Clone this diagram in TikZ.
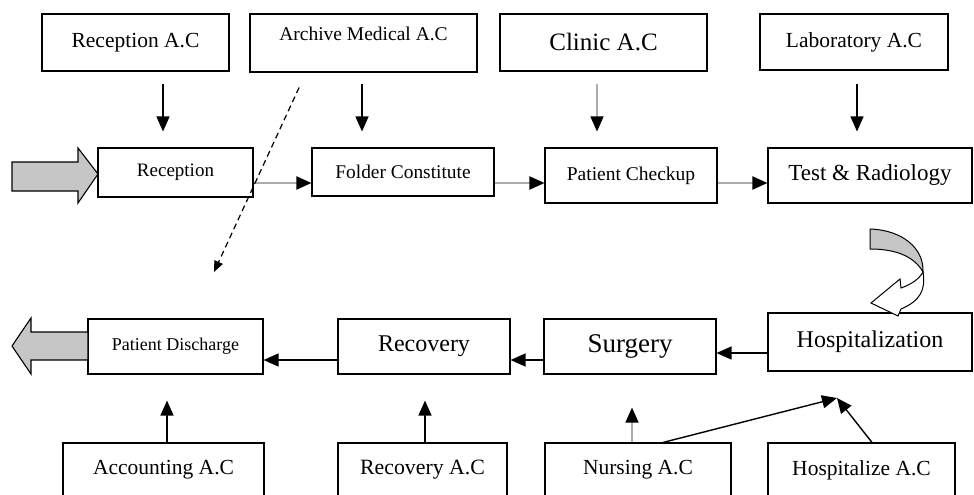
\documentclass[tikz,border=0pt]{standalone}
\usepackage{fontspec}
\setmainfont{Liberation Serif}
\usetikzlibrary{arrows.meta,calc}

\begin{document}
\begin{tikzpicture}[x=1pt,y=-1pt,
    box/.style={draw,line width=1.1pt,inner sep=0pt,fill=white},
    fsz/.style={font=\fontsize{#1}{#1}\selectfont},
    arr/.style={line width=1.4pt,-{Triangle[length=15pt,width=13pt,color=black]}},
    grayarr/.style={arr,draw=gray!65,line width=2pt}]
      \useasboundingbox (0,0) rectangle (974,495);
      \clip (0,0) rectangle (974,495);

      % draw top boxes
      \node[box,fsz=21.5,minimum width=187pt,minimum height=57pt] (recac) at (135.5,42.5) {Reception A.C};
      \node[box,fsz=19.5,minimum width=227pt,minimum height=58pt,text depth=19pt] (archac) at (363.5,43) {Archive Medical A.C};
      \node[box,fsz=25,minimum width=207pt,minimum height=57pt] (clinac) at (603.5,42.5) {Clinic A.C};
      \node[box,fsz=21.5,minimum width=188pt,minimum height=56pt] (labac) at (854,42) {Laboratory A.C};

      % draw process boxes
      \node[box,fsz=19,minimum width=155pt,minimum height=49pt] (recep) at (175.5,172.5) {Reception};
      \node[box,fsz=19.4,minimum width=182pt,minimum height=48pt] (folder) at (403,172) {Folder Constitute};
      \node[box,fsz=19.5,minimum width=172pt,minimum height=55pt] (checkup) at (631,175.5) {Patient Checkup};
      \node[box,fsz=23,minimum width=204pt,minimum height=55pt] (test) at (870,175.5) {Test \& Radiology};

      \node[box,fsz=18,minimum width=175pt,minimum height=55pt] (disch) at (175.5,346.5) {Patient Discharge};
      \node[box,fsz=24,minimum width=172pt,minimum height=55pt] (recov) at (424,346.5) {Recovery};
      \node[box,fsz=27,minimum width=172pt,minimum height=55pt] (surg) at (630,346.5) {Surgery};
      \node[box,fsz=24,minimum width=204pt,minimum height=58pt] (hosp) at (870,342) {Hospitalization};

      % draw bottom boxes
      \node[box,fsz=21.5,minimum width=201pt,minimum height=54pt] (acctac) at (163.5,470) {Accounting A.C};
      \node[box,fsz=21.8,minimum width=169pt,minimum height=54pt] (recovac) at (422.5,470) {Recovery A.C};
      \node[box,fsz=21.5,minimum width=186pt,minimum height=54pt] (nursac) at (638,470) {Nursing A.C};
      \node[box,fsz=21.5,minimum width=187pt,minimum height=54pt] (hospac) at (861.5,470) {Hospitalize A.C};

      \coordinate (meet) at (837,398);
      \coordinate (dashend) at (214,272);

      % arrows from the top row
      \draw[arr,shorten <=12pt,shorten >=16pt] ($(recac.south)+(27.5,0)$) -- ($(recep.north)+(-12.5,0)$);
      \draw[arr,shorten <=11pt,shorten >=16pt] ($(archac.south)+(-1.5,0)$) -- ($(folder.north)+(-41,0)$);
      \draw[grayarr,line width=1.4pt,shorten <=12pt,shorten >=16pt] ($(clinac.south)+(-6.5,0)$) -- ($(checkup.north)+(-34,0)$);
      \draw[arr,shorten <=13pt,shorten >=16pt] ($(labac.south)+(3,0)$) -- ($(test.north)+(-13,0)$);

      % process flow
      \draw[grayarr] ($(recep.east)+(0,10.5)$) -- ($(folder.west)+(0,11)$);
      \draw[grayarr] ($(folder.east)+(0,11)$) -- ($(checkup.west)+(0,7.5)$);
      \draw[grayarr] ($(checkup.east)+(0,7.5)$) -- ($(test.west)+(0,7.5)$);
      \draw[arr] ($(hosp.west)+(0,11)$) -- ($(surg.east)+(0,6.5)$);
      \draw[arr] ($(surg.west)+(0,13.5)$) -- ($(recov.east)+(0,13.5)$);
      \draw[arr] ($(recov.west)+(0,13.5)$) -- ($(disch.east)+(0,13.5)$);

      % arrows from the bottom row
      \draw[arr,shorten >=26pt] ($(acctac.north)+(3.5,0)$) -- ($(disch.south)+(-8.5,0)$);
      \draw[arr,shorten >=26pt] ($(recovac.north)+(2.5,0)$) -- ($(recov.south)+(1,0)$);
      \draw[grayarr,line width=1.6pt,shorten >=33pt] ($(nursac.north)+(-6,0)$) -- ($(surg.south)+(2,0)$);
      \draw[arr] ($(nursac.north)+(25,0)$) -- (meet);
      \draw[arr] ($(hospac.north)+(10.5,0)$) -- (meet);

      % dashed arrow
      \draw[line width=1.2pt,dash pattern=on 6pt off 4pt,-{Triangle[length=11pt,width=9pt]},shorten <=16.5pt]
      ($(archac.south)+(-57.5,0)$) -- (dashend);

      % block arrows in and out
      \draw[fill=gray!45,line width=1.1pt] (12,162) -- (78,162) -- (78,148) -- (98,174) -- (78,203) -- (78,191) -- (12,191) -- cycle;
      \draw[fill=gray!45,line width=1.1pt] (88,332) -- (31,332) -- (31,318) -- (12,346) -- (31,374) -- (31,360) -- (88,360) -- cycle;

      % curved arrow
      \draw[fill=gray!45,line width=1pt] (870,229) .. controls (902,230) and (924,248) .. (923,272)
      .. controls (914,256) and (895,249) .. (870,249) -- cycle;
      \draw[fill=white,line width=1pt] (923,272) .. controls (926,290) and (920,301) .. (901,309)
      -- (898,316) -- (871,303) -- (900,279) -- (901,288) .. controls (912,284) and (919,279) .. (923,272) -- cycle;
\end{tikzpicture}
\end{document}
